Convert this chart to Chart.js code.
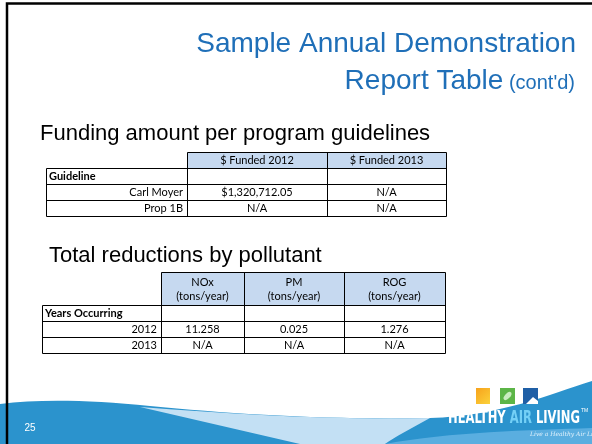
<!DOCTYPE html>
<html lang="en">
<head>
<meta charset="UTF-8">
<title>Sample Annual Demonstration Report Table (cont'd)</title>
<script src="https://cdn.jsdelivr.net/npm/chart.js@4.4.0/dist/chart.umd.min.js"></script>
<style>
  html, body { margin: 0; padding: 0; background: #fff; }
  canvas { display: block; }
</style>
</head>
<body>
<canvas id="slide" width="592" height="444"></canvas>
<script>
// table contents
const guidelines = ['Carl Moyer', 'Prop 1B'];
const fundedHeaders = ['$ Funded 2012', '$ Funded 2013'];
const funded2012 = ['$1,320,712.05', 'N/A'];
const funded2013 = ['N/A', 'N/A'];

const pollutants = ['NOx', 'PM', 'ROG'];
const pollutantUnit = '(tons/year)';
const years = ['2012', '2013'];
const noxTons = ['11.258', 'N/A'];
const pmTons = ['0.025', 'N/A'];
const rogTons = ['1.276', 'N/A'];

const TITLE_BLUE = '#1f6fb8';
const HEADER_FILL = '#c6d9f0';
const CELL_FONT = '11px Lato, "Noto Sans", sans-serif';
const CELL_FONT_BOLD = 'bold 11px Lato, "Noto Sans", sans-serif';

// layout of the two tables (slide pixels)
const fundingCols = [46, 187, 327, 446];
const fundingRows = [152, 168, 184, 200, 216];
const reductionCols = [42, 161, 244, 344, 445];
const reductionRows = [272, 305, 321, 337, 353];

function crisp(v) { return Math.round(v) + 0.5; }

function drawTable(ctx, X, Y, t) {
  const c = t.cols, r = t.rows;
  // header cells (first column has no header cell)
  for (let i = 1; i < c.length - 1; i++) {
    ctx.fillStyle = HEADER_FILL;
    ctx.fillRect(X(c[i]), Y(r[0]), X(c[i + 1]) - X(c[i]), Y(r[1]) - Y(r[0]));
  }
  ctx.strokeStyle = '#000';
  ctx.lineWidth = 1;
  ctx.beginPath();
  // header outline
  ctx.moveTo(crisp(X(c[1])), crisp(Y(r[0])));
  ctx.lineTo(crisp(X(c[c.length - 1])), crisp(Y(r[0])));
  for (let i = 1; i < c.length; i++) {
    ctx.moveTo(crisp(X(c[i])), crisp(Y(r[0])));
    ctx.lineTo(crisp(X(c[i])), crisp(Y(r[r.length - 1])));
  }
  // body rows
  for (let j = 1; j < r.length; j++) {
    ctx.moveTo(crisp(X(c[0])), crisp(Y(r[j])));
    ctx.lineTo(crisp(X(c[c.length - 1])), crisp(Y(r[j])));
  }
  ctx.moveTo(crisp(X(c[0])), crisp(Y(r[1])));
  ctx.lineTo(crisp(X(c[0])), crisp(Y(r[r.length - 1])));
  ctx.stroke();

  ctx.fillStyle = '#000';
  ctx.textBaseline = 'middle';
  // header text
  ctx.font = CELL_FONT;
  ctx.textAlign = 'center';
  t.headers.forEach((lines, i) => {
    const cx = (X(c[i + 1]) + X(c[i + 2])) / 2;
    const cy = (Y(r[0]) + Y(r[1])) / 2;
    const lh = 14;
    lines.forEach((line, k) => {
      ctx.fillText(line, cx, cy + (k - (lines.length - 1) / 2) * lh + 0.5);
    });
  });
  // section label
  ctx.font = CELL_FONT_BOLD;
  ctx.textAlign = 'left';
  ctx.fillText(t.section, X(c[0]) + 3, (Y(r[1]) + Y(r[2])) / 2 + 0.5);
  // row labels and values
  ctx.font = CELL_FONT;
  t.labels.forEach((lab, j) => {
    const cy = (Y(r[j + 2]) + Y(r[j + 3])) / 2 + 0.5;
    ctx.textAlign = 'right';
    ctx.fillText(lab, X(c[1]) - 4, cy);
    ctx.textAlign = 'center';
    t.values.forEach((col, i) => {
      ctx.fillText(col[j], (X(c[i + 1]) + X(c[i + 2])) / 2, cy);
    });
  });
}

const slidePlugin = {
  id: 'slide',
  beforeDraw(chart) {
    const ctx = chart.ctx;
    const X = v => chart.scales.x.getPixelForValue(v);
    const Y = v => chart.scales.y.getPixelForValue(v);
    ctx.save();
    ctx.fillStyle = '#fff';
    ctx.fillRect(0, 0, chart.width, chart.height);

    // bottom swoosh
    ctx.fillStyle = '#2b93cd';
    ctx.beginPath();
    ctx.moveTo(X(0), Y(404));
    ctx.bezierCurveTo(X(40), Y(399), X(90), Y(400), X(150), Y(406));
    ctx.bezierCurveTo(X(230), Y(414), X(330), Y(420), X(430), Y(418));
    ctx.bezierCurveTo(X(500), Y(416), X(550), Y(394), X(592), Y(381));
    ctx.lineTo(X(592), Y(444));
    ctx.lineTo(X(0), Y(444));
    ctx.closePath();
    ctx.fill();

    ctx.fillStyle = '#c3e0f4';
    ctx.beginPath();
    ctx.moveTo(X(140), Y(407));
    ctx.bezierCurveTo(X(230), Y(414), X(330), Y(420), X(430), Y(418));
    ctx.bezierCurveTo(X(410), Y(429), X(395), Y(437), X(385), Y(444));
    ctx.lineTo(X(300), Y(444));
    ctx.closePath();
    ctx.fill();

    ctx.fillStyle = '#5aaee0';
    ctx.beginPath();
    ctx.moveTo(X(385), Y(444));
    ctx.bezierCurveTo(X(450), Y(432), X(530), Y(430), X(592), Y(428));
    ctx.lineTo(X(592), Y(444));
    ctx.closePath();
    ctx.fill();

    // slide frame
    ctx.strokeStyle = '#000';
    ctx.lineWidth = 2.5;
    ctx.beginPath();
    ctx.moveTo(X(7), Y(448));
    ctx.lineTo(X(7), Y(3.5));
    ctx.lineTo(X(600), Y(3.5));
    ctx.stroke();
    ctx.restore();
  },
  afterDraw(chart) {
    const ctx = chart.ctx;
    const X = v => chart.scales.x.getPixelForValue(v);
    const Y = v => chart.scales.y.getPixelForValue(v);
    ctx.save();

    // slide title
    ctx.fillStyle = TITLE_BLUE;
    ctx.textBaseline = 'alphabetic';
    ctx.textAlign = 'right';
    ctx.font = '28px "Liberation Sans", Arial, sans-serif';
    ctx.fillText('Sample Annual Demonstration', X(576), Y(52));
    ctx.font = '20px "Liberation Sans", Arial, sans-serif';
    const small = ' (cont\'d)';
    const sw = ctx.measureText(small).width;
    ctx.fillText(small, X(575), Y(89));
    ctx.font = '28px "Liberation Sans", Arial, sans-serif';
    ctx.fillText('Report Table', X(575) - sw, Y(89));

    // section headings
    ctx.fillStyle = '#000';
    ctx.textAlign = 'left';
    ctx.font = '22px "Liberation Sans", Arial, sans-serif';
    ctx.fillText('Funding amount per program guidelines', X(40), Y(140));
    ctx.fillText('Total reductions by pollutant', X(49), Y(262));

    drawTable(ctx, X, Y, {
      cols: fundingCols, rows: fundingRows,
      headers: fundedHeaders.map(h => [h]),
      section: 'Guideline',
      labels: guidelines,
      values: [funded2012, funded2013]
    });
    drawTable(ctx, X, Y, {
      cols: reductionCols, rows: reductionRows,
      headers: pollutants.map(p => [p, pollutantUnit]),
      section: 'Years Occurring',
      labels: years,
      values: [noxTons, pmTons, rogTons]
    });

    // page number
    ctx.fillStyle = '#fff';
    ctx.font = '10px "Liberation Sans", Arial, sans-serif';
    ctx.textBaseline = 'middle';
    ctx.fillText('25', X(30), Y(428));

    // logo icons
    const sun = ctx.createLinearGradient(X(476), Y(388), X(490), Y(404));
    sun.addColorStop(0, '#f7a21c');
    sun.addColorStop(1, '#fbd23a');
    ctx.fillStyle = sun;
    ctx.fillRect(X(476), Y(388), X(490) - X(476), Y(404) - Y(388));
    ctx.fillStyle = '#5cb547';
    ctx.fillRect(X(500), Y(388), X(515) - X(500), Y(404) - Y(388));
    ctx.fillStyle = '#c9ecc0';
    ctx.beginPath();
    ctx.ellipse(X(507.5), Y(396), 5, 2.5, -0.8, 0, Math.PI * 2);
    ctx.fill();
    ctx.fillStyle = '#1f5fa6';
    ctx.fillRect(X(523), Y(388), X(538) - X(523), Y(404) - Y(388));
    ctx.fillStyle = '#ffffff';
    ctx.beginPath();
    ctx.moveTo(X(526), Y(404));
    ctx.lineTo(X(533), Y(397));
    ctx.lineTo(X(538), Y(401));
    ctx.lineTo(X(538), Y(404));
    ctx.closePath();
    ctx.fill();

    // logo wordmark
    ctx.font = 'bold 18px "Liberation Sans Narrow", "DejaVu Sans Condensed", sans-serif';
    ctx.textBaseline = 'alphabetic';
    ctx.textAlign = 'left';
    const parts = [['HEALTHY ', '#ffffff'], ['AIR', '#74d0f6'], [' LIVING', '#ffffff']];
    const total = parts.reduce((s, p) => s + ctx.measureText(p[0]).width, 0);
    const k = (580 - 448) / total;
    ctx.save();
    ctx.translate(X(448), Y(423));
    ctx.scale(k, 1);
    let px = 0;
    parts.forEach(p => {
      ctx.fillStyle = p[1];
      ctx.fillText(p[0], px, 0);
      px += ctx.measureText(p[0]).width;
    });
    ctx.restore();
    ctx.fillStyle = '#fff';
    ctx.font = '5px sans-serif';
    ctx.fillText('TM', X(581), Y(412));
    ctx.font = 'italic 6px "DejaVu Serif", serif';
    ctx.fillStyle = '#e4f3fc';
    ctx.fillText('Live a Healthy Air Life!', X(530), Y(436));
    ctx.restore();
  }
};

new Chart(document.getElementById('slide'), {
  type: 'scatter',
  data: { datasets: [] },
  options: {
    responsive: false,
    animation: false,
    layout: { padding: 0 },
    plugins: { legend: { display: false }, tooltip: { enabled: false } },
    scales: {
      x: { type: 'linear', min: 0, max: 592, display: false },
      y: { type: 'linear', min: 0, max: 444, reverse: true, display: false }
    }
  },
  plugins: [slidePlugin]
});
</script>
</body>
</html>
